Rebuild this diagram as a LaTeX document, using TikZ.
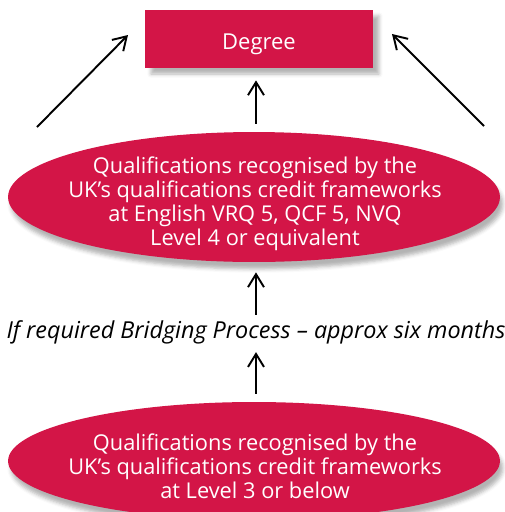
\documentclass[tikz,border=0pt]{standalone}
\usepackage{fontspec}
\setmainfont{Open Sans}
\usetikzlibrary{arrows.meta, positioning, shapes.geometric, shadows.blur}
\definecolor{qualred}{RGB}{211,21,71}

\begin{document}
\begin{tikzpicture} [x=0.02cm, y=-0.02cm,
		% define styles
		degreenodestyle/.style={
			% The shape:
			rectangle,
			% The size:
			minimum width=4.56cm,
			minimum height=1.16cm,
			text height=12pt,
			text depth=0pt,
			% The filling:
			fill=qualred,
			% Shadow
			blur shadow={shadow xshift=1.2mm, shadow yshift=-1.2mm, shadow opacity=30},
			% Font
			text=white,
			font=\fontsize{12.5}{15}\selectfont
		},
		qualnodestyle/.style={
			% The shape:
			ellipse,
			inner sep=0pt,
			% The size:
			minimum width=9.84cm,
			minimum height=2.6cm,
			% The filling:
			fill=qualred,
			% Shadow
			blur shadow={shadow xshift=0.6mm, shadow yshift=-1.4mm, shadow opacity=30}
		},
		qualtextstyle/.style={
			inner sep=0pt,
			% Font
			text=white,
			align=center,
			font=\fontsize{12.4}{13.6}\selectfont
		},
		bridgenodestyle/.style={
			inner sep=0pt,
			font=\fontsize{13.3}{15}\selectfont\itshape
		},
		arrow/.style={
			->,
			% Thickness
			line width=1.1pt,
			>={Straight Barb[length=2.6mm, width=3.2mm]},
			% Color
			black
		}]
		% end of style definition

		\useasboundingbox (0,0) rectangle (505,512);
		\clip (0,0) rectangle (505,512);

		% draw nodes
		\node (iDegree) [degreenodestyle] at (259,39) {Degree};
		\node (iHigher) [qualnodestyle] at (254,197) {};
		\node (iHigherText) [qualtextstyle] at (255,204) {Qualifications recognised by the\\UK’s qualifications credit frameworks\\at English VRQ 5, QCF 5, NVQ\\Level 4 or equivalent};
		\node (iBridge) [bridgenodestyle] at (256,332) {If required Bridging Process – approx six months};
		\node (iLower) [qualnodestyle, minimum height=2.36cm] at (254,461) {};
		\node (iLowerText) [qualtextstyle] at (255,466) {Qualifications recognised by the\\UK’s qualifications credit frameworks\\at Level 3 or below};

		\coordinate (iLeftFrom) at (37,127);
		\coordinate (iLeftTo) at (128,35);
		\coordinate (iRightFrom) at (484,126);
		\coordinate (iRightTo) at (392,34);

		% connect nodes
		\draw [arrow, shorten <=0.16cm, shorten >=0.24cm] (iHigher.north -| 256,0) -- (iDegree.south -| 256,0);
		\draw [arrow, shorten <=0.1cm, shorten >=0.2cm] (iBridge.north -| 256,0) -- (iHigher.south -| 256,0);
		\draw [arrow, shorten <=0.16cm, shorten >=0.16cm] (iLower.north -| 256,0) -- (iBridge.south -| 256,0);
		\draw [arrow] (iLeftFrom) -- (iLeftTo);
		\draw [arrow] (iRightFrom) -- (iRightTo);
	\end{tikzpicture}
\end{document}
